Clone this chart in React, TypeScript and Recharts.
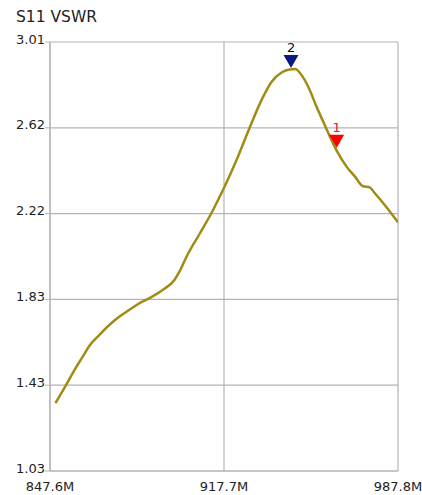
import React from "react";
import { ComposedChart, Line, XAxis, YAxis, CartesianGrid, ReferenceDot } from "recharts";

const freqs = [849.8, 854.1, 857.5, 860.8, 863.5, 867.5, 871.6, 875.6, 879.6, 883.7, 887.7, 893.1, 897.8, 899.8, 902.6, 907.9, 912.7, 917.9, 922.8, 927.7, 932.9, 936.9, 940.9, 944.1, 946.5, 948.2, 952.2, 954.9, 957.6, 960.3, 963.6, 967.0, 970.4, 973.7, 976.4, 978.4, 981.8, 987.8];
const vswr = [1.343, 1.427, 1.497, 1.558, 1.608, 1.658, 1.705, 1.743, 1.774, 1.805, 1.828, 1.866, 1.913, 1.951, 2.019, 2.125, 2.222, 2.342, 2.467, 2.605, 2.744, 2.827, 2.869, 2.883, 2.885, 2.868, 2.790, 2.713, 2.644, 2.575, 2.498, 2.436, 2.390, 2.344, 2.339, 2.313, 2.267, 2.178];

const xTicks = [847.6, 917.7, 987.8];
const xTickLabels = ["847.6M", "917.7M", "987.8M"];
const yTicks = [1.03, 1.426, 1.822, 2.218, 2.614, 3.01];
const yTickLabels = ["1.03", "1.43", "1.83", "2.22", "2.62", "3.01"];

const markerFreqs = [963.1, 944.7];
const markerValues = [2.522, 2.89];
const markerLabels = ["1", "2"];
const markerColors = ["#ff0000", "#0a1a80"];
const markerTextColors = ["#d0203c", "#0a0a3a"];

const data = freqs.map((f, i) => ({ f, v: vswr[i] }));

const FONT = "DejaVu Sans";

const YTick = (props: any) => {
  const { x, y, payload, index } = props;
  return (
    <text x={x} y={y - 3} dy="0.355em" textAnchor="end" fontFamily={FONT} fontSize={13} fill="#222">
      {yTickLabels[index] ?? payload.value}
    </text>
  );
};

const XTick = (props: any) => {
  const { x, y, index } = props;
  return (
    <text x={x} y={y} dy="0.9em" textAnchor="middle" fontFamily={FONT} fontSize={13} fill="#222">
      {xTickLabels[index]}
    </text>
  );
};

const makeMarker = (i: number) => (props: any) => {
  const { cx, cy } = props;
  const w = 7.5;
  const h = 13;
  return (
    <g>
      <polygon points={`${cx - w},${cy - h} ${cx + w},${cy - h} ${cx},${cy}`} fill={markerColors[i]} />
      <text x={cx} y={cy - h - 3} textAnchor="middle" fontFamily={FONT} fontSize={13} fill={markerTextColors[i]}>
        {markerLabels[i]}
      </text>
    </g>
  );
};

export default function App() {
  return (
    <div style={{ position: "absolute", left: 0, top: 0, width: 422, height: 495, background: "#fff" }}>
      <div style={{ position: "absolute", left: 16, top: 8, fontFamily: FONT, fontSize: 15.5, color: "#222", whiteSpace: "nowrap" }}>
        S11 VSWR
      </div>
      <ComposedChart width={422} height={495} data={data} margin={{ top: 42, right: 24, bottom: 0, left: 0 }}>
        <CartesianGrid stroke="#b4b4b4" strokeWidth={1.2} horizontalValues={yTicks} verticalValues={xTicks} />
        <XAxis
          dataKey="f"
          type="number"
          domain={[847.6, 987.8]}
          ticks={xTicks}
          interval={0}
          height={24}
          tickLine={false}
          axisLine={{ stroke: "#b4b4b4", strokeWidth: 1.2 }}
          tick={<XTick />}
          tickMargin={2}
          allowDataOverflow
        />
        <YAxis
          type="number"
          domain={[1.03, 3.01]}
          ticks={yTicks}
          interval={0}
          width={50}
          tickSize={5}
          tickMargin={0}
          tickLine={{ stroke: "#b4b4b4" }}
          axisLine={{ stroke: "#b4b4b4", strokeWidth: 1.2 }}
          tick={<YTick />}
          allowDataOverflow
        />
        <Line
          dataKey="v"
          type="monotone"
          stroke="#a08c14"
          strokeWidth={2.5}
          dot={false}
          isAnimationActive={false}
        />
        {markerFreqs.map((f, i) => (
          <ReferenceDot key={i} x={f} y={markerValues[i]} r={0} shape={makeMarker(i)} />
        ))}
      </ComposedChart>
    </div>
  );
}
